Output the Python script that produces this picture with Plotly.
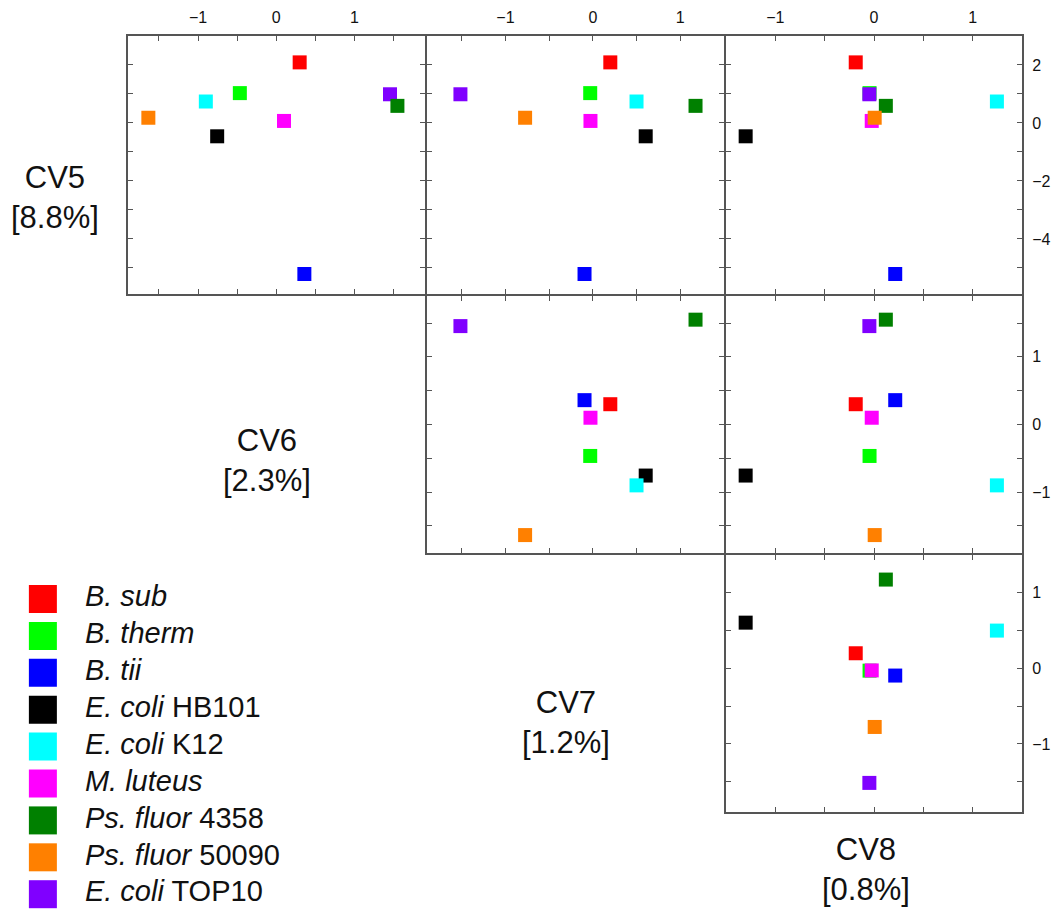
import plotly.graph_objects as go

# ---- data ----
species_italic = ["B. sub", "B. therm", "B. tii", "E. coli", "E. coli", "M. luteus",
                  "Ps. fluor", "Ps. fluor", "E. coli"]
species_strain = ["", "", "", "HB101", "K12", "", "4358", "50090", "TOP10"]
colors = ["#FF0000", "#00FF00", "#0000FF", "#000000", "#00FFFF", "#FF00FF",
          "#008000", "#FF8000", "#8000FF"]
cv5 = [2.09, 1.03, -5.21, -0.46, 0.74, 0.07, 0.59, 0.18, 0.99]
cv6 = [0.30, -0.465, 0.36, -0.755, -0.90, 0.10, 1.55, -1.635, 1.455]
cv7 = [0.20, -0.03, -0.095, 0.605, 0.50, -0.027, 1.175, -0.775, -1.515]
cv8 = [-0.185, -0.045, 0.215, -1.30, 1.245, -0.023, 0.12, 0.007, -0.047]
cv_labels = ["CV5<br>[8.8%]", "CV6<br>[2.3%]", "CV7<br>[1.2%]", "CV8<br>[0.8%]"]
draw_order = [0, 1, 2, 3, 4, 5, 8, 6, 7]

W, H = 1051, 910
FONT = "Liberation Sans, Arial, sans-serif"
LINE = "#555555"
LW = 2


def px_x(a, b):
    return [a / W, b / W]


def px_y(top, bottom):
    return [1 - bottom / H, 1 - top / H]


# adjacent panels separated by LW px so their frame lines coincide
cols = [px_x(128, 426), px_x(428, 726), px_x(728, 1025)]
rows = [px_y(36, 294), px_y(296, 553), px_y(555, 812)]

ranges = {"cv5": [-5.9, 3.0], "cv6": [-1.9, 1.9], "cv7": [-1.9, 1.5], "cv8": [-1.5, 1.5]}
tickv = {
    "cv5": [-5, -4, -3, -2, -1, 0, 1, 2],
    "cv6": [-1.5, -1, -0.5, 0, 0.5, 1, 1.5],
    "cv7": [-1.5, -1, -0.5, 0, 0.5, 1],
    "cv8": [-1, -0.5, 0, 0.5, 1],
}
labelled = {"cv5": [-4, -2, 0, 2], "cv6": [-1, 0, 1], "cv7": [-1, 0, 1], "cv8": [-1, 0, 1]}
vals = {"cv5": cv5, "cv6": cv6, "cv7": cv7, "cv8": cv8}


def ttext(key):
    out = []
    for v in tickv[key]:
        if v in labelled[key]:
            s = str(int(v))
            out.append(s.replace("-", "\u2212"))
        else:
            out.append("")
    return out


# panels: (row, col, xkey, ykey)
panels = [
    (0, 0, "cv6", "cv5"),
    (0, 1, "cv7", "cv5"),
    (0, 2, "cv8", "cv5"),
    (1, 1, "cv7", "cv6"),
    (1, 2, "cv8", "cv6"),
    (2, 2, "cv8", "cv7"),
]

fig = go.Figure()
layout = {}
for k, (r, c, xk, yk) in enumerate(panels, start=1):
    xa = "x" if k == 1 else f"x{k}"
    ya = "y" if k == 1 else f"y{k}"
    for i in draw_order:
        fig.add_trace(go.Scatter(
            x=[vals[xk][i]], y=[vals[yk][i]], mode="markers",
            marker=dict(symbol="square", size=14, color=colors[i], line=dict(width=0)),
            xaxis=xa, yaxis=ya, showlegend=False, hoverinfo="skip", cliponaxis=False))
    common = dict(showline=True, linecolor=LINE, linewidth=LW, mirror="ticks",
                  ticks="inside", ticklen=5, tickwidth=1, tickcolor=LINE,
                  showgrid=False, zeroline=False, fixedrange=True,
                  tickfont=dict(family=FONT, size=16, color="#111111"))
    layout["xaxis" if k == 1 else f"xaxis{k}"] = dict(
        common, domain=cols[c], range=ranges[xk], anchor=ya,
        tickmode="array", tickvals=tickv[xk], ticktext=ttext(xk),
        side="top", showticklabels=(r == 0), ticklabelstandoff=5)
    layout["yaxis" if k == 1 else f"yaxis{k}"] = dict(
        common, domain=rows[r], range=ranges[yk], anchor=xa,
        tickmode="array", tickvals=tickv[yk], ticktext=ttext(yk),
        side="right", showticklabels=(c == 2), ticklabelstandoff=5)

# legend drawn on a hidden axis
n = len(colors)
leg_text = []
for it, st in zip(species_italic, species_strain):
    leg_text.append(f"<i>{it}</i>" + (f" {st}" if st else ""))
fig.add_trace(go.Scatter(
    x=[0] * n, y=list(range(n)), mode="markers",
    marker=dict(symbol="square", size=28, color=colors, line=dict(width=0)),
    xaxis="x7", yaxis="y7", showlegend=False, hoverinfo="skip"))
fig.add_trace(go.Scatter(
    x=[0.98] * n, y=list(range(n)), mode="text", text=leg_text,
    textposition="middle right",
    textfont=dict(family=FONT, size=29, color="#111111"),
    xaxis="x7", yaxis="y7", showlegend=False, hoverinfo="skip"))
layout["xaxis7"] = dict(domain=[0, 300 / W], range=[-1, 300 / 43 - 1], visible=False,
                        anchor="y7", fixedrange=True)
layout["yaxis7"] = dict(domain=[0, 1 - 580 / H], range=[8.428, -0.515], visible=False,
                        anchor="x7", fixedrange=True)

# CV labels
label_pos = [(55, 197), (268, 460), (568, 722), (868, 869)]
annotations = []
for txt, (lx, ly) in zip(cv_labels, label_pos):
    annotations.append(dict(text=txt, x=lx / W, y=1 - ly / H, xref="paper", yref="paper",
                            xanchor="center", yanchor="middle", showarrow=False,
                            font=dict(family=FONT, size=31, color="#111111")))

fig.update_layout(
    width=W, height=H, margin=dict(l=0, r=0, t=0, b=0),
    paper_bgcolor="white", plot_bgcolor="white",
    annotations=annotations, showlegend=False, **layout)

fig.write_html("out.html")
